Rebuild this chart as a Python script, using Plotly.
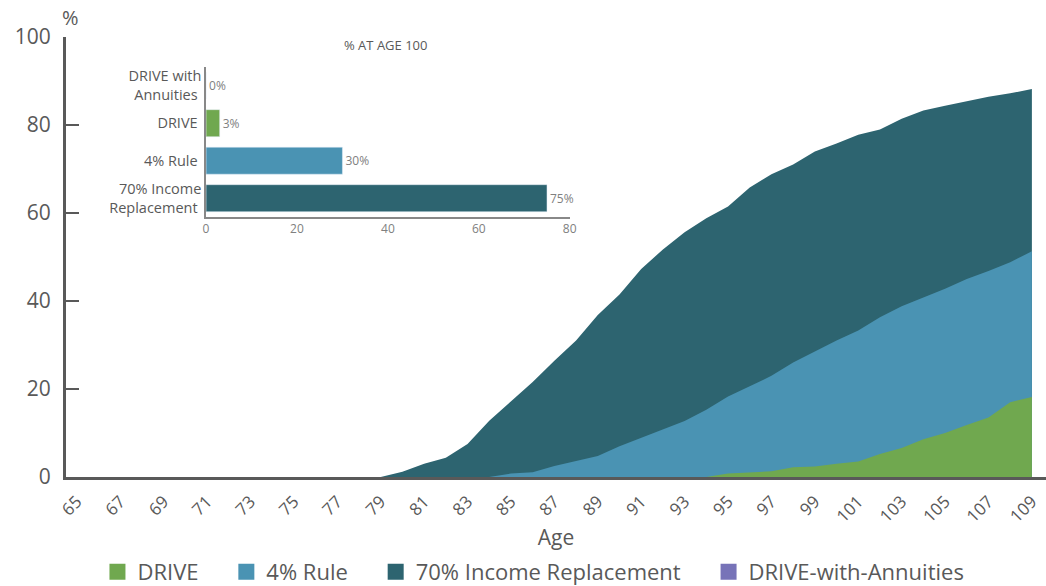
import plotly.graph_objects as go

ages = list(range(65, 110))

# % of simulations depleted by age
income70 = [0]*14 + [0, 1.2, 3.0, 4.4, 7.5, 12.8, 17.3, 21.6, 26.4, 31.0, 36.8, 41.5, 47.3, 51.7,
                     55.6, 58.8, 61.5, 65.8, 68.8, 71.0, 74.0, 75.8, 77.8, 79.0, 81.4, 83.3, 84.4,
                     85.4, 86.4, 87.2, 88.2]
rule4 = [0]*19 + [0, 0.8, 1.1, 2.5, 3.7, 4.8, 7.0, 8.9, 10.9, 12.7, 15.3, 18.3, 20.6, 23.0, 26.0,
                  28.5, 31.0, 33.3, 36.3, 38.8, 40.8, 42.8, 45.0, 46.8, 48.8, 51.3]
drive = [0]*29 + [0, 0.8, 1.1, 1.3, 2.2, 2.4, 3.0, 3.5, 5.2, 6.6, 8.6, 10.0, 11.8, 13.5, 17.0, 18.2]
drive_annuities = [0]*45

age_ticks = list(range(65, 110, 2))

inset_cats = ["70% Income<br>Replacement", "4% Rule", "DRIVE", "DRIVE with<br>Annuities"]
inset_vals = [75, 30, 3, 0]
inset_labels = ["75%", "30%", "3%", "0%"]

legend_names = ["DRIVE", "4% Rule", "70% Income Replacement", "DRIVE-with-Annuities"]

C_DRIVE = "#70A84F"
C_RULE = "#4A93B3"
C_INC = "#2D6470"
C_ANN = "#7773B8"
GRAY = "#595959"
FONT = "Open Sans"
legend_colors = [C_DRIVE, C_RULE, C_INC, C_ANN]
PAD = "&nbsp;" * 4

fig = go.Figure()
for name, vals, col in [("70% Income Replacement", income70, C_INC),
                        ("4% Rule", rule4, C_RULE),
                        ("DRIVE", drive, C_DRIVE),
                        ("DRIVE-with-Annuities", drive_annuities, C_ANN)]:
    fig.add_trace(go.Scatter(x=ages, y=vals, name=name, mode="lines", fill="tozeroy",
                             fillcolor=col, line=dict(width=0, color=col), showlegend=False))

# legend swatches (square markers)
for i, (name, col) in enumerate(zip(legend_names, legend_colors)):
    label = name + (PAD if i < len(legend_names) - 1 else "")
    fig.add_trace(go.Scatter(x=[None], y=[None], name=label, mode="markers",
                             marker=dict(symbol="square", size=17, color=col)))

fig.add_trace(go.Bar(x=inset_vals, y=inset_cats, orientation="h", xaxis="x2", yaxis="y2",
                     marker=dict(color=[C_INC, C_RULE, C_DRIVE, C_ANN]),
                     text=inset_labels, textposition="outside", cliponaxis=False,
                     textfont=dict(size=12, color="#808080", family=FONT),
                     showlegend=False, width=0.72))

fig.update_layout(
    width=1046, height=586,
    margin=dict(l=66, r=0, t=37, b=109, autoexpand=False),
    paper_bgcolor="white", plot_bgcolor="white",
    font=dict(family=FONT, color=GRAY),
    xaxis=dict(range=[64.5, 109.65], tickvals=age_ticks, tickangle=-45, automargin=False,
               tickfont=dict(size=17, color=GRAY), showgrid=False, zeroline=False,
               showline=True, linecolor=GRAY, linewidth=3, ticks="", ticklabelstandoff=5,
               title=dict(text="Age", font=dict(size=21, color=GRAY), standoff=8)),
    yaxis=dict(range=[0, 100], tickvals=[0, 20, 40, 60, 80, 100], showgrid=False,
               zeroline=False, showline=True, linecolor=GRAY, linewidth=3, automargin=False,
               ticks="inside", ticklen=13, tickwidth=2, tickcolor=GRAY,
               ticklabelstandoff=8,
               tickfont=dict(size=21, color=GRAY)),
    xaxis2=dict(domain=[0.1429, 0.514], anchor="y2", range=[0, 80], automargin=False,
                tickvals=[0, 20, 40, 60, 80], showgrid=False, zeroline=False,
                showline=True, linecolor="#888888", linewidth=1.5, ticks="",
                tickfont=dict(size=12, color="#808080")),
    yaxis2=dict(domain=[0.591, 0.932], anchor="x2", showgrid=False, zeroline=False,
                showline=True, linecolor="#888888", linewidth=1.5, ticks="", automargin=False,
                tickfont=dict(size=14.5, color=GRAY), ticksuffix=" "),
    bargap=0.28,
    legend=dict(orientation="h", x=0.51, xanchor="center", xref="container",
                y=14 / 586, yanchor="middle", yref="container",
                font=dict(size=22, color=GRAY), traceorder="normal"),
    showlegend=True,
    annotations=[
        dict(text="%", xref="paper", yref="paper", x=-0.006, y=1.0, xanchor="left",
             yanchor="bottom", yshift=4, showarrow=False, font=dict(size=20, color=GRAY)),
        dict(text="% AT AGE 100", xref="paper", yref="paper", x=(385 - 66) / 980,
             y=(477 - 45) / 440, xanchor="center", yanchor="middle", showarrow=False,
             font=dict(size=13, color=GRAY)),
    ],
)

fig.write_html("out.html")
